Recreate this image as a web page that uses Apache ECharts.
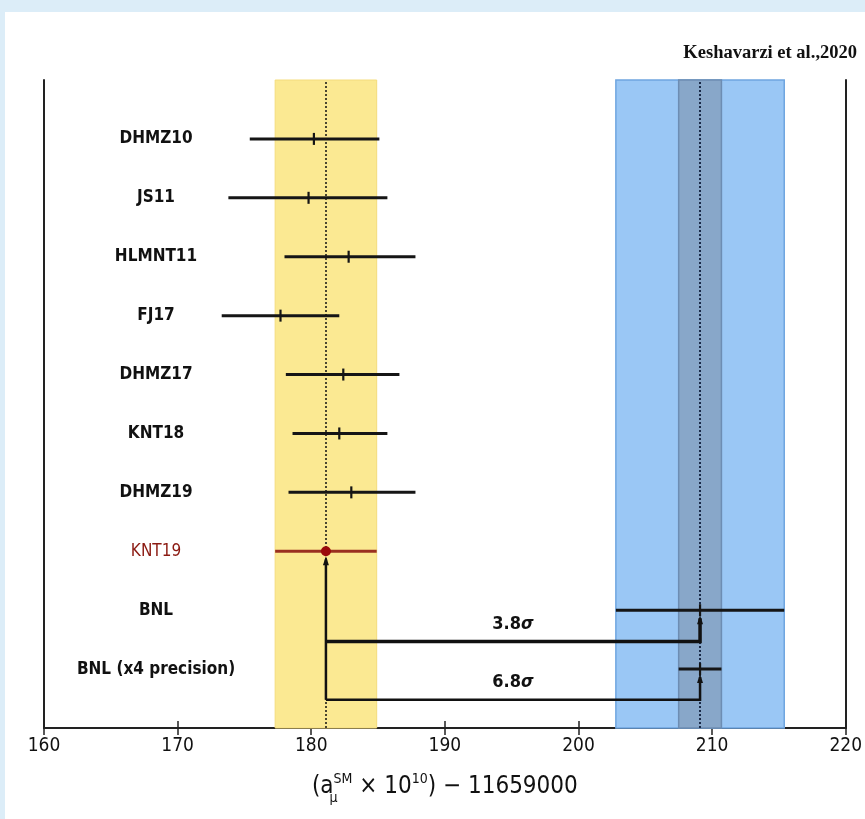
<!DOCTYPE html>
<html>
<head>
<meta charset="utf-8">
<script src="https://cdn.jsdelivr.net/npm/echarts@6/dist/echarts.min.js"></script>
<style>
  html, body { margin: 0; padding: 0; background: #dcedf8; width: 865px; height: 819px; overflow: hidden; }
  #chart { position: absolute; left: 5px; top: 12px; width: 860px; height: 807px; background: #ffffff; }
</style>
</head>
<body>
<div id="chart"></div>
<script>
// ---- data ----
const categories = ['DHMZ10', 'JS11', 'HLMNT11', 'FJ17', 'DHMZ17', 'KNT18', 'DHMZ19', 'KNT19', 'BNL', 'BNL (x4 precision)'];
const centers = [180.2, 179.8, 182.8, 177.7, 182.4, 182.1, 183.0, 181.1, 209.1, 209.1];
const lowers  = [175.4, 173.8, 178.0, 173.3, 178.1, 178.6, 178.3, 177.3, 202.8, 207.5];
const uppers  = [185.1, 185.7, 187.8, 182.1, 186.6, 185.7, 187.8, 184.9, 215.4, 210.7];
const xMin = 160, xMax = 220, xStep = 10;
const smCenter = 181.1;
const smBand = [177.3, 184.9];
const bnlCenter = 209.1;
const bnlBand = [202.8, 215.4];
const bnlX4Band = [207.5, 210.7];
const sigmaLabels = ['3.8σ', '6.8σ'];
const sigmaLevels = [1.47, 0.48];
const sigmaTargets = ['BNL', 'BNL (x4 precision)'];
const highlight = 'KNT19';
const credit = 'Keshavarzi et al.,2020';

// ---- derived ----
const nRows = categories.length;
const rowY = i => nRows - i;
const hiIdx = categories.indexOf(highlight);
const FONT = "'DejaVu Sans Condensed', 'Liberation Sans Narrow', 'DejaVu Sans', sans-serif";

const chart = echarts.init(document.getElementById('chart'), null, { renderer: 'canvas' });

const errData = categories.map((n, i) => [lowers[i], centers[i], uppers[i], rowY(i), i]);
const brData = sigmaLabels.map((s, k) => [sigmaLevels[k], rowY(categories.indexOf(sigmaTargets[k])), smCenter, bnlCenter, rowY(hiIdx), k]);

const option = {
  animation: false,
  title: {
    text: credit,
    right: 3, top: 27,
    textStyle: { fontFamily: "'Liberation Serif', serif", fontSize: 18.5, fontWeight: 'bold', color: '#111' }
  },
  grid: { left: 39, right: 18, top: 68, bottom: 91, containLabel: false },
  xAxis: [{
    type: 'value', min: xMin, max: xMax, interval: xStep, position: 'bottom',
    axisLine: { show: true, lineStyle: { color: '#222', width: 2 } },
    axisTick: { show: true, inside: true, length: 7, lineStyle: { color: '#222', width: 1.5 } },
    splitLine: { show: false },
    axisLabel: { fontFamily: FONT, fontSize: 19, color: '#111', margin: 9 },
    name: '{n|(a}{sub|μ}{sup|SM}{n| × 10}{sup|10}{n|) − 11659000}',
    nameLocation: 'middle', nameGap: 44,
    nameTextStyle: {
      rich: {
        n: { fontFamily: FONT, fontSize: 24, color: '#111', lineHeight: 27, verticalAlign: 'bottom' },
        sub: { fontFamily: FONT, fontSize: 14, color: '#111', lineHeight: 27, verticalAlign: 'bottom', width: 0, align: 'left', padding: [0, 0, -6, 0] },
        sup: { fontFamily: FONT, fontSize: 14, color: '#111', lineHeight: 27, verticalAlign: 'top' }
      }
    }
  }, {
    type: 'value', min: xMin, max: xMax, interval: xStep, position: 'top',
    axisLine: { show: true, lineStyle: { color: '#222', width: 2 } },
    axisTick: { show: true, inside: true, length: 7, lineStyle: { color: '#222', width: 1.5 } },
    splitLine: { show: false },
    axisLabel: { show: false }
  }],
  yAxis: [{
    type: 'value', min: 0, max: nRows + 1, interval: 1, position: 'left',
    axisLine: { show: true, lineStyle: { color: '#222', width: 2 } },
    axisTick: { show: false },
    splitLine: { show: false },
    axisLabel: {
      inside: true, margin: 112, align: 'center',
      fontFamily: FONT, fontSize: 17, fontWeight: 'bold', color: '#111',
      formatter: function (v) {
        const i = nRows - v;
        if (i < 0 || i >= nRows || Math.round(i) !== i) return '';
        return i === hiIdx ? '{r|' + categories[i] + '}' : categories[i];
      },
      rich: { r: { fontFamily: FONT, fontSize: 17, fontWeight: 'normal', color: '#8b1a12' } }
    }
  }, {
    type: 'value', min: 0, max: nRows + 1, interval: 1, position: 'right',
    axisLine: { show: true, lineStyle: { color: '#222', width: 2 } },
    axisTick: { show: false }, axisLabel: { show: false }, splitLine: { show: false }
  }],
  series: [
    {
      type: 'line', data: [], z: 1, silent: true,
      markArea: {
        silent: true,
        data: [
          [{ xAxis: smBand[0], itemStyle: { color: '#fbe992', borderColor: '#f4dc7c', borderWidth: 1 } }, { xAxis: smBand[1] }],
          [{ xAxis: bnlBand[0], itemStyle: { color: '#9ac7f5', borderColor: '#6fa5e0', borderWidth: 1.5 } }, { xAxis: bnlBand[1] }],
          [{ xAxis: bnlX4Band[0], itemStyle: { color: '#88a7c9', borderColor: '#6d8db3', borderWidth: 1.5 } }, { xAxis: bnlX4Band[1] }]
        ]
      },
      markLine: {
        silent: true, symbol: ['none', 'none'], label: { show: false },
        data: [
          { xAxis: smCenter, lineStyle: { color: '#111', type: [2, 2], width: 1.5 } },
          { xAxis: bnlCenter, lineStyle: { color: '#1a2a48', type: [2, 2], width: 2 } }
        ]
      }
    },
    {
      type: 'custom', z: 5, silent: true,
      data: brData,
      renderItem: function (params, api) {
        const lvl = api.value(0), tgtY = api.value(1), x0 = api.value(2), x1 = api.value(3), srcY = api.value(4), k = api.value(5);
        const pA = api.coord([x0, srcY]);
        const pL0 = api.coord([x0, lvl]);
        const pL1 = api.coord([x1, lvl]);
        const pT = api.coord([x1, tgtY]);
        const pM = api.coord([(x0 + x1) / 2, lvl]);
        const w = k === 0 ? 3.5 : 2.5;
        const children = [
          { type: 'polyline', shape: { points: [pL0, pL1, [pL1[0], pT[1] + 8]] }, style: { stroke: '#111', lineWidth: w, fill: null } },
          { type: 'polygon', shape: { points: [[pT[0], pT[1] + 5], [pT[0] - 3, pT[1] + 14], [pT[0] + 3, pT[1] + 14]] }, style: { fill: '#111' } },
          { type: 'text', x: pM[0], y: pM[1] - 8, style: { text: '{n|' + sigmaLabels[k].replace('σ', '') + '}{s|σ}', align: 'center', verticalAlign: 'bottom',
              rich: { n: { fontFamily: FONT, fontSize: 18, fontWeight: 'bold', fill: '#111' }, s: { fontFamily: FONT, fontSize: 18, fontWeight: 'bold', fontStyle: 'italic', fill: '#111' } } } }
        ];
        if (k === 0) {
          children.push({ type: 'line', shape: { x1: pA[0], y1: pA[1] + 8, x2: pA[0], y2: api.coord([x0, Math.min.apply(null, sigmaLevels)])[1] }, style: { stroke: '#111', lineWidth: 2.5 } });
          children.push({ type: 'polygon', shape: { points: [[pA[0], pA[1] + 5], [pA[0] - 3, pA[1] + 14], [pA[0] + 3, pA[1] + 14]] }, style: { fill: '#111' } });
        }
        return { type: 'group', children: children };
      }
    },
    {
      type: 'custom', z: 6, silent: true,
      data: errData,
      renderItem: function (params, api) {
        const lo = api.value(0), c = api.value(1), hi = api.value(2), y = api.value(3), i = api.value(4);
        const p1 = api.coord([lo, y]), p2 = api.coord([hi, y]), pc = api.coord([c, y]);
        const isHi = i === hiIdx;
        const col = isHi ? '#9a3020' : '#151515';
        const ch = [
          { type: 'line', shape: { x1: p1[0], y1: p1[1], x2: p2[0], y2: p2[1] }, style: { stroke: col, lineWidth: 3 } }
        ];
        if (isHi) {
          ch.push({ type: 'circle', shape: { cx: pc[0], cy: pc[1], r: 5 }, style: { fill: '#9b0a0a' } });
        } else {
          ch.push({ type: 'line', shape: { x1: pc[0], y1: pc[1] - 6, x2: pc[0], y2: pc[1] + 6 }, style: { stroke: '#151515', lineWidth: 2.2 } });
        }
        return { type: 'group', children: ch };
      }
    }
  ]
};
chart.setOption(option);
</script>
</body>
</html>
